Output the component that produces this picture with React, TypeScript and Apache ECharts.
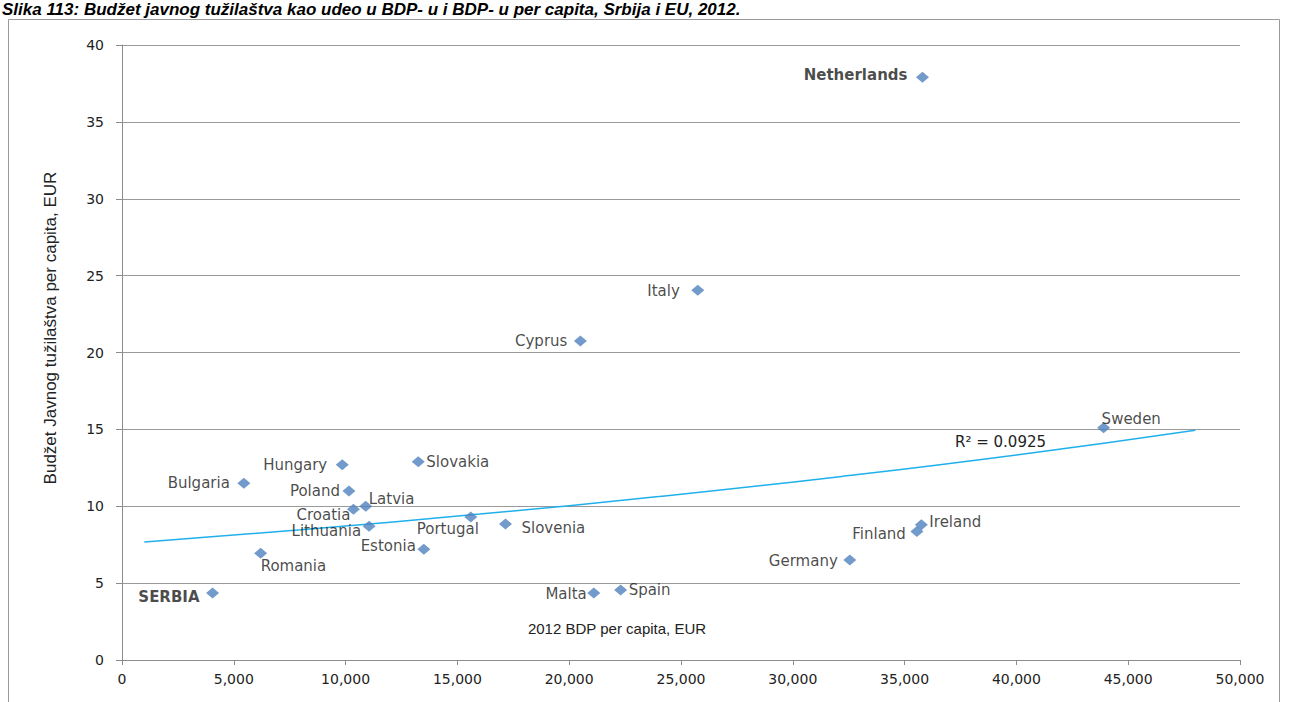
import React, { useEffect, useRef } from "react";
import * as echarts from "echarts";

// ---- Data ----
const countries = [
  "Netherlands", "Italy", "Cyprus", "Sweden", "Hungary", "Slovakia", "Bulgaria",
  "Poland", "Latvia", "Croatia", "Lithuania", "Portugal", "Slovenia", "Estonia",
  "Romania", "SERBIA", "Malta", "Spain", "Germany", "Finland", "Ireland",
];
const gdpPerCapita = [
  35800, 25750, 20500, 43900, 9850, 13250, 5450,
  10150, 10900, 10350, 11050, 15600, 17150, 13500,
  6200, 4050, 21100, 22300, 32550, 35550, 35750,
];
const budgetPerCapita = [
  37.9, 24.05, 20.75, 15.1, 12.7, 12.9, 11.5,
  11.0, 10.0, 9.8, 8.7, 9.3, 8.85, 7.2,
  6.95, 4.35, 4.35, 4.55, 6.5, 8.35, 8.8,
];
// Trendline (exponential fit)
const trendX = [1000, 8000, 16000, 24000, 32000, 40000, 48000];
const trendY = [7.67, 8.47, 9.49, 10.63, 11.91, 13.34, 14.95];
const xTicks = [0, 5000, 10000, 15000, 20000, 25000, 30000, 35000, 40000, 45000, 50000];
const yTicks = [0, 5, 10, 15, 20, 25, 30, 35, 40];
const rSquaredText = "R² = 0.0925";
const titleText =
  "Slika 113: Budžet javnog tužilaštva kao udeo u BDP- u i BDP- u per capita, Srbija i EU, 2012.";
const xTitle = "2012 BDP per capita, EUR";
const yTitle = "Budžet Javnog tužilaštva per capita, EUR";
const boldNames = ["Netherlands", "SERBIA"];

// ---- Label placement (style only): align, dx, dy from marker centre ----
const labelPlacement: Record<string, [string, number, number]> = {
  Netherlands: ["right", -15, -2],
  Italy: ["right", -18, 1],
  Cyprus: ["right", -13, 0],
  Sweden: ["left", -2, -9],
  Hungary: ["right", -15, 0],
  Slovakia: ["left", 8, 0],
  Bulgaria: ["right", -14, 0],
  Poland: ["right", -9, 0],
  Latvia: ["left", 3, -7],
  Croatia: ["right", -3, 6],
  Lithuania: ["right", -8, 5],
  Portugal: ["right", 8, 12],
  Slovenia: ["left", 16, 4],
  Estonia: ["right", -8, -3],
  Romania: ["left", 0, 13],
  SERBIA: ["right", -13, 4],
  Malta: ["right", -7, 1],
  Spain: ["left", 8, 0],
  Germany: ["right", -12, 1],
  Finland: ["right", -11, 2],
  Ireland: ["left", 8, -3],
};

const FONT = "'DejaVu Sans', Verdana, sans-serif";

export default function App() {
  const ref = useRef<HTMLDivElement>(null);

  useEffect(() => {
    if (!ref.current) return;
    const chart = echarts.init(ref.current, null, { renderer: "svg" });

    const scatterData = countries.map((name, i) => {
      const [align, dx, dy] = labelPlacement[name] || ["left", 8, 0];
      return {
        name,
        value: [gdpPerCapita[i], budgetPerCapita[i]],
        label: {
          show: true,
          position: "inside",
          align,
          verticalAlign: "middle",
          offset: [dx, dy],
          formatter: name,
          fontFamily: FONT,
          fontSize: 15,
          color: "#1a1a1a",
          fontWeight: boldNames.includes(name) ? "bold" : "normal",
        },
      };
    });

    chart.setOption({
      animation: false,
      backgroundColor: "#ffffff",
      grid: { left: 122, top: 45, right: 51, bottom: 42, containLabel: false },
      xAxis: {
        type: "value",
        min: xTicks[0],
        max: xTicks[xTicks.length - 1],
        interval: 5000,
        axisLine: { show: true, onZero: false, lineStyle: { color: "#8c8c8c", width: 1 } },
        axisTick: { show: true, length: 5, lineStyle: { color: "#8c8c8c" } },
        splitLine: { show: false },
        axisLabel: {
          margin: 12,
          fontFamily: FONT,
          fontSize: 14,
          color: "#222",
          formatter: (v: number) => v.toLocaleString("en-US"),
        },
      },
      yAxis: {
        type: "value",
        min: yTicks[0],
        max: yTicks[yTicks.length - 1],
        interval: 5,
        axisLine: { show: true, lineStyle: { color: "#8c8c8c", width: 1 } },
        axisTick: { show: true, length: 6, lineStyle: { color: "#8c8c8c" } },
        splitLine: { show: true, lineStyle: { color: "#9a9a9a", width: 1 } },
        axisLabel: {
          margin: 18,
          fontFamily: FONT,
          fontSize: 14,
          color: "#222",
        },
      },
      series: [
        {
          type: "line",
          data: trendX.map((x, i) => [x, trendY[i]]),
          smooth: true,
          showSymbol: false,
          symbol: "none",
          lineStyle: { color: "#1fb0ec", width: 1.5 },
          z: 1,
          silent: true,
        },
        {
          type: "scatter",
          data: scatterData,
          symbol: "diamond",
          symbolSize: [13, 11],
          itemStyle: { color: "#4f81bd" },
          z: 3,
        },
      ],
      graphic: [
        {
          type: "rect",
          shape: { x: 8.5, y: 19.5, width: 1271, height: 800 },
          style: { fill: "none", stroke: "#9a9a9a", lineWidth: 1 },
          z: 0,
          silent: true,
        },
        {
          type: "text",
          x: 2,
          y: 1,
          style: {
            text: titleText,
            font: "italic bold 17px 'Liberation Sans', Arial, sans-serif",
            fill: "#000",
            textAlign: "left",
            textVerticalAlign: "top",
          },
        },
        {
          type: "text",
          x: 50,
          y: 328,
          rotation: Math.PI / 2,
          style: {
            text: yTitle,
            font: "17px 'Liberation Sans', Arial, sans-serif",
            fill: "#222",
            textAlign: "center",
            textVerticalAlign: "middle",
          },
        },
        {
          type: "text",
          x: 617,
          y: 628,
          style: {
            text: xTitle,
            font: "15px 'Liberation Sans', Arial, sans-serif",
            fill: "#222",
            textAlign: "center",
            textVerticalAlign: "middle",
          },
        },
        {
          type: "text",
          x: 955,
          y: 442,
          style: {
            text: rSquaredText,
            font: "15px 'DejaVu Sans', Verdana, sans-serif",
            fill: "#222",
            textAlign: "left",
            textVerticalAlign: "middle",
          },
        },
      ],
    });

    return () => chart.dispose();
  }, []);

  return (
    <div
      ref={ref}
      style={{ position: "fixed", left: 0, top: 0, width: 1291, height: 702, background: "#fff" }}
    />
  );
}
